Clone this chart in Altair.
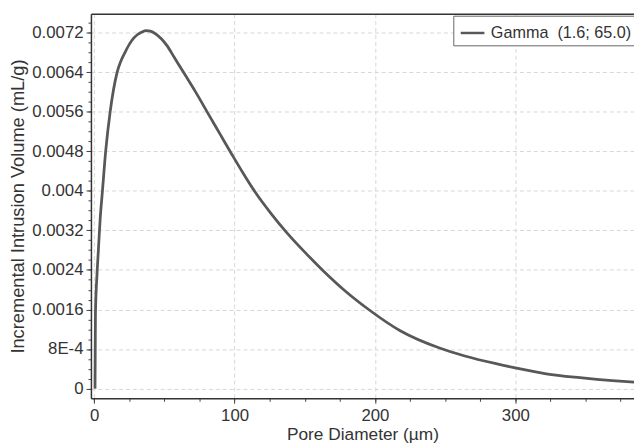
import altair as alt
import pandas as pd

# Curve (pore diameter in µm, incremental intrusion in mL/g)
diameter = [0.6, 0.9, 2.0, 3.0, 4.2, 5.9, 8.2, 11.4, 16.4, 19.0, 22.0, 25.0, 28.0, 31.0,
            34.0, 37.0, 40.0, 44.0, 48.0, 52.0, 57.0, 63.3, 72.0, 82.0, 90.0, 98.0, 106.0,
            115.0, 126.0, 137.0, 150.0, 164.0, 179.0, 195.5, 218.0, 246.0, 264.0, 287.0,
            300.0, 322.0, 346.0, 369.0, 385.0, 392.0]
volume = [0.0, 0.0015, 0.0023, 0.0028, 0.0034, 0.0040, 0.0048, 0.0056, 0.0064, 0.00662,
          0.0068, 0.00696, 0.00708, 0.00716, 0.00721, 0.00724, 0.00723, 0.00717, 0.00707,
          0.00693, 0.0067, 0.00641, 0.00601, 0.00552, 0.00513, 0.00474, 0.00436, 0.00396,
          0.00354, 0.00316, 0.00276, 0.00236, 0.00197, 0.0016, 0.00117, 0.00082, 0.00066,
          0.00050, 0.00042, 0.00030, 0.00022, 0.00016, 0.00013, 0.00012]
series_name = ["Gamma\u00a0 (1.6; 65.0)"]

y_ticks = [0, 0.0008, 0.0016, 0.0024, 0.0032, 0.004, 0.0048, 0.0056, 0.0064, 0.0072]
y_minor = [0, 0.0002, 0.0004, 0.0006, 0.0008, 0.001, 0.0012, 0.0014, 0.0016, 0.0018,
           0.002, 0.0022, 0.0024, 0.0026, 0.0028, 0.003, 0.0032, 0.0034, 0.0036, 0.0038,
           0.004, 0.0042, 0.0044, 0.0046, 0.0048, 0.005, 0.0052, 0.0054, 0.0056, 0.0058,
           0.006, 0.0062, 0.0064, 0.0066, 0.0068, 0.007, 0.0072, 0.0074]
x_ticks = [0, 100, 200, 300]
x_minor = [0, 25, 50, 75, 100, 125, 150, 175, 200, 225, 250, 275, 300, 325, 350, 375]

df = pd.DataFrame({"d": diameter, "v": volume, "s": series_name * len(diameter)})

FONT = "Liberation Sans"
TXT = "#333333"
x_scale = alt.Scale(domain=[-2.3, 384.5], nice=False, zero=False)
y_scale = alt.Scale(domain=[-0.000196, 0.00758], nice=False, zero=False)

label_expr = ("abs(datum.value - 0.0008) < 1e-9 ? '8E-4' : format(datum.value, '.4~f')")

# top frame line (the plot continues past the right edge of the picture)
frame = alt.Chart(df).mark_point(opacity=0, clip=True).encode(
    x=alt.X("d:Q", scale=x_scale,
            axis=alt.Axis(orient="top", labels=False, ticks=False, grid=False, title=None,
                          domain=True, domainColor="#333", domainWidth=1.5)),
    y=alt.Y("v:Q", scale=y_scale, axis=None),
)

minor = alt.Chart(df).mark_point(opacity=0, clip=True).encode(
    x=alt.X("d:Q", scale=x_scale,
            axis=alt.Axis(values=x_minor, labels=False, title=None, grid=False,
                          domain=False, tickSize=3, tickColor="#444", orient="bottom")),
    y=alt.Y("v:Q", scale=y_scale,
            axis=alt.Axis(values=y_minor, labels=False, title=None, grid=False,
                          domain=False, tickSize=3, tickColor="#444", orient="left")),
)

line = alt.Chart(df).mark_line(color="#585858", strokeWidth=2.8, clip=True,
                               interpolate="monotone").encode(
    x=alt.X("d:Q", scale=x_scale,
            axis=alt.Axis(values=x_ticks, title="Pore Diameter (µm)", grid=True,
                          gridDash=[4, 3], gridColor="#d6d6d6", gridWidth=1,
                          tickSize=5, tickColor="#444", domainColor="#333",
                          domainWidth=1.5, labelPadding=4, titlePadding=3,
                          labelFontSize=17, titleFontSize=17.5, orient="bottom")),
    y=alt.Y("v:Q", scale=y_scale,
            axis=alt.Axis(values=y_ticks, labelExpr=label_expr,
                          title="Incremental Intrusion Volume (mL/g)", grid=True,
                          gridDash=[4, 3], gridColor="#d6d6d6", gridWidth=1,
                          tickSize=5, tickColor="#444", domainColor="#333",
                          domainWidth=1.5, labelPadding=3, titlePadding=4,
                          labelFontSize=17, titleFontSize=18.5, orient="left")),
    color=alt.Color("s:N", scale=alt.Scale(range=["#585858"]),
                    legend=alt.Legend(title=None, orient="none", legendX=367, legendY=2,
                                      symbolType="stroke", symbolSize=576,
                                      symbolStrokeWidth=2.5, symbolOffset=2,
                                      fillColor="white", strokeColor="#666", padding=4,
                                      labelFont=FONT, labelFontSize=16.4, labelColor=TXT,
                                      labelOffset=5)),
)

chart = alt.layer(frame, minor, line).resolve_axis(
    x="independent", y="independent"
).properties(
    width=550, height=389.5,
    autosize=alt.AutoSizeParams(type="none"),
    padding={"left": 84, "top": 3, "right": 0, "bottom": 47},
    background="white",
).configure_view(strokeWidth=0).configure_axis(
    labelFont=FONT, titleFont=FONT,
    labelColor=TXT, titleColor=TXT, titleFontWeight="normal",
)

chart.save("out.html", embed_options={"renderer": "svg", "actions": False})
